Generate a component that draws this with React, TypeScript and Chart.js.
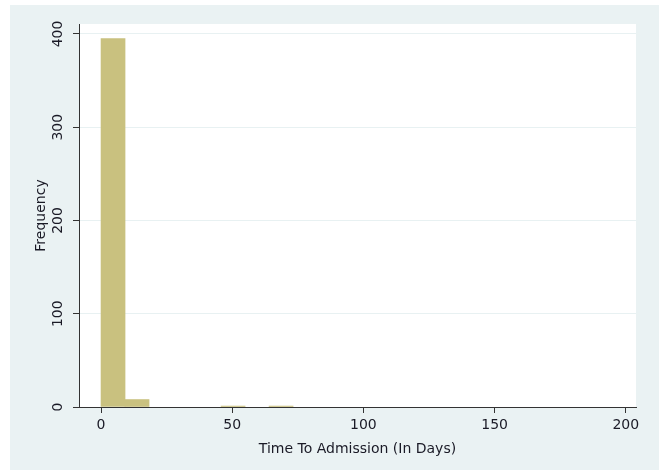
import React, { useEffect, useRef } from "react";
import { Chart, registerables } from "chart.js";

Chart.register(...registerables);

// Histogram bins (start of each bin, in days) and frequencies
const binWidth = 9.15;
const binStarts = [
  0, 9.15, 18.3, 27.45, 36.6, 45.75, 54.9, 64.05, 73.2, 82.35,
  91.5, 100.65, 109.8, 118.95, 128.1, 137.25, 146.4, 155.55, 164.7, 173.85,
];
const frequencies = [395, 8, 0, 0, 0, 1, 0, 1, 0, 0, 0, 0, 0, 0, 0, 0, 0, 0, 0, 0];

const xTicks = [0, 50, 100, 150, 200];
const yTicks = [0, 100, 200, 300, 400];
const xTitle = "Time To Admission (In Days)";
const yTitle = "Frequency";

const FONT = "'DejaVu Sans', Verdana, sans-serif";

const backgroundPlugin = {
  id: "stataBackground",
  beforeDraw(chart: any) {
    const { ctx, width, height, chartArea } = chart;
    ctx.save();
    ctx.fillStyle = "#ffffff";
    ctx.fillRect(0, 0, width, height);
    ctx.fillStyle = "#EAF2F3";
    ctx.fillRect(10, 5, width - 10, height - 5);
    ctx.fillStyle = "#ffffff";
    ctx.fillRect(chartArea.left, chartArea.top, chartArea.right - chartArea.left, chartArea.bottom - chartArea.top);
    ctx.restore();
  },
};

export default function App() {
  const ref = useRef<HTMLCanvasElement | null>(null);

  useEffect(() => {
    document.body.style.margin = "0";
    if (!ref.current) return;
    const data = binStarts.map((s, i) => ({ x: s + binWidth / 2, y: frequencies[i] > 0 ? frequencies[i] : null }));
    const chart = new Chart(ref.current, {
      type: "bar",
      data: {
        datasets: [
          {
            data,
            backgroundColor: "#C9C17F",
            borderWidth: 0,
            barPercentage: 1,
            categoryPercentage: 1,
          } as any,
        ],
      },
      options: {
        animation: false,
        responsive: false,
        events: [],
        layout: { padding: { left: 0, top: 24, right: 23, bottom: 0 } },
        plugins: { legend: { display: false }, tooltip: { enabled: false } },
        scales: {
          x: {
            type: "linear",
            offset: false,
            min: -8.4,
            max: 203.9,
            afterBuildTicks: (scale: any) => {
              scale.ticks = xTicks.map((v) => ({ value: v }));
            },
            afterFit: (scale: any) => {
              scale.height = 63;
            },
            grid: {
              offset: false,
              drawOnChartArea: false,
              drawTicks: true,
              tickLength: 6,
              tickColor: "#333333",
              tickWidth: 1,
            },
            border: { display: true, color: "#333333", width: 1 },
            ticks: {
              color: "#1a1a26",
              font: { family: FONT, size: 14 },
              padding: 4,
              maxRotation: 0,
              autoSkip: false,
            },
            title: {
              display: true,
              text: xTitle,
              color: "#1a1a26",
              font: { family: FONT, size: 14 },
              padding: { top: 0, bottom: 12 },
            },
          },
          y: {
            type: "linear",
            min: 0,
            max: 410.7,
            afterBuildTicks: (scale: any) => {
              scale.ticks = yTicks.map((v) => ({ value: v }));
            },
            afterFit: (scale: any) => {
              scale.width = 79;
            },
            grid: {
              color: "#E8F1F2",
              lineWidth: 1,
              drawTicks: true,
              tickLength: 6,
              tickColor: "#333333",
              tickWidth: 1,
            },
            border: { display: true, color: "#333333", width: 1 },
            ticks: {
              color: "#1a1a26",
              font: { family: FONT, size: 14 },
              padding: 1,
              minRotation: 90,
              maxRotation: 90,
              crossAlign: "center",
              autoSkip: false,
            },
            title: {
              display: true,
              text: yTitle,
              color: "#1a1a26",
              font: { family: FONT, size: 14 },
              padding: { top: 33, bottom: 0 },
            },
          },
        },
      },
      plugins: [backgroundPlugin],
    });
    return () => chart.destroy();
  }, []);

  return <canvas ref={ref} width={659} height={470} style={{ display: "block" }} />;
}
